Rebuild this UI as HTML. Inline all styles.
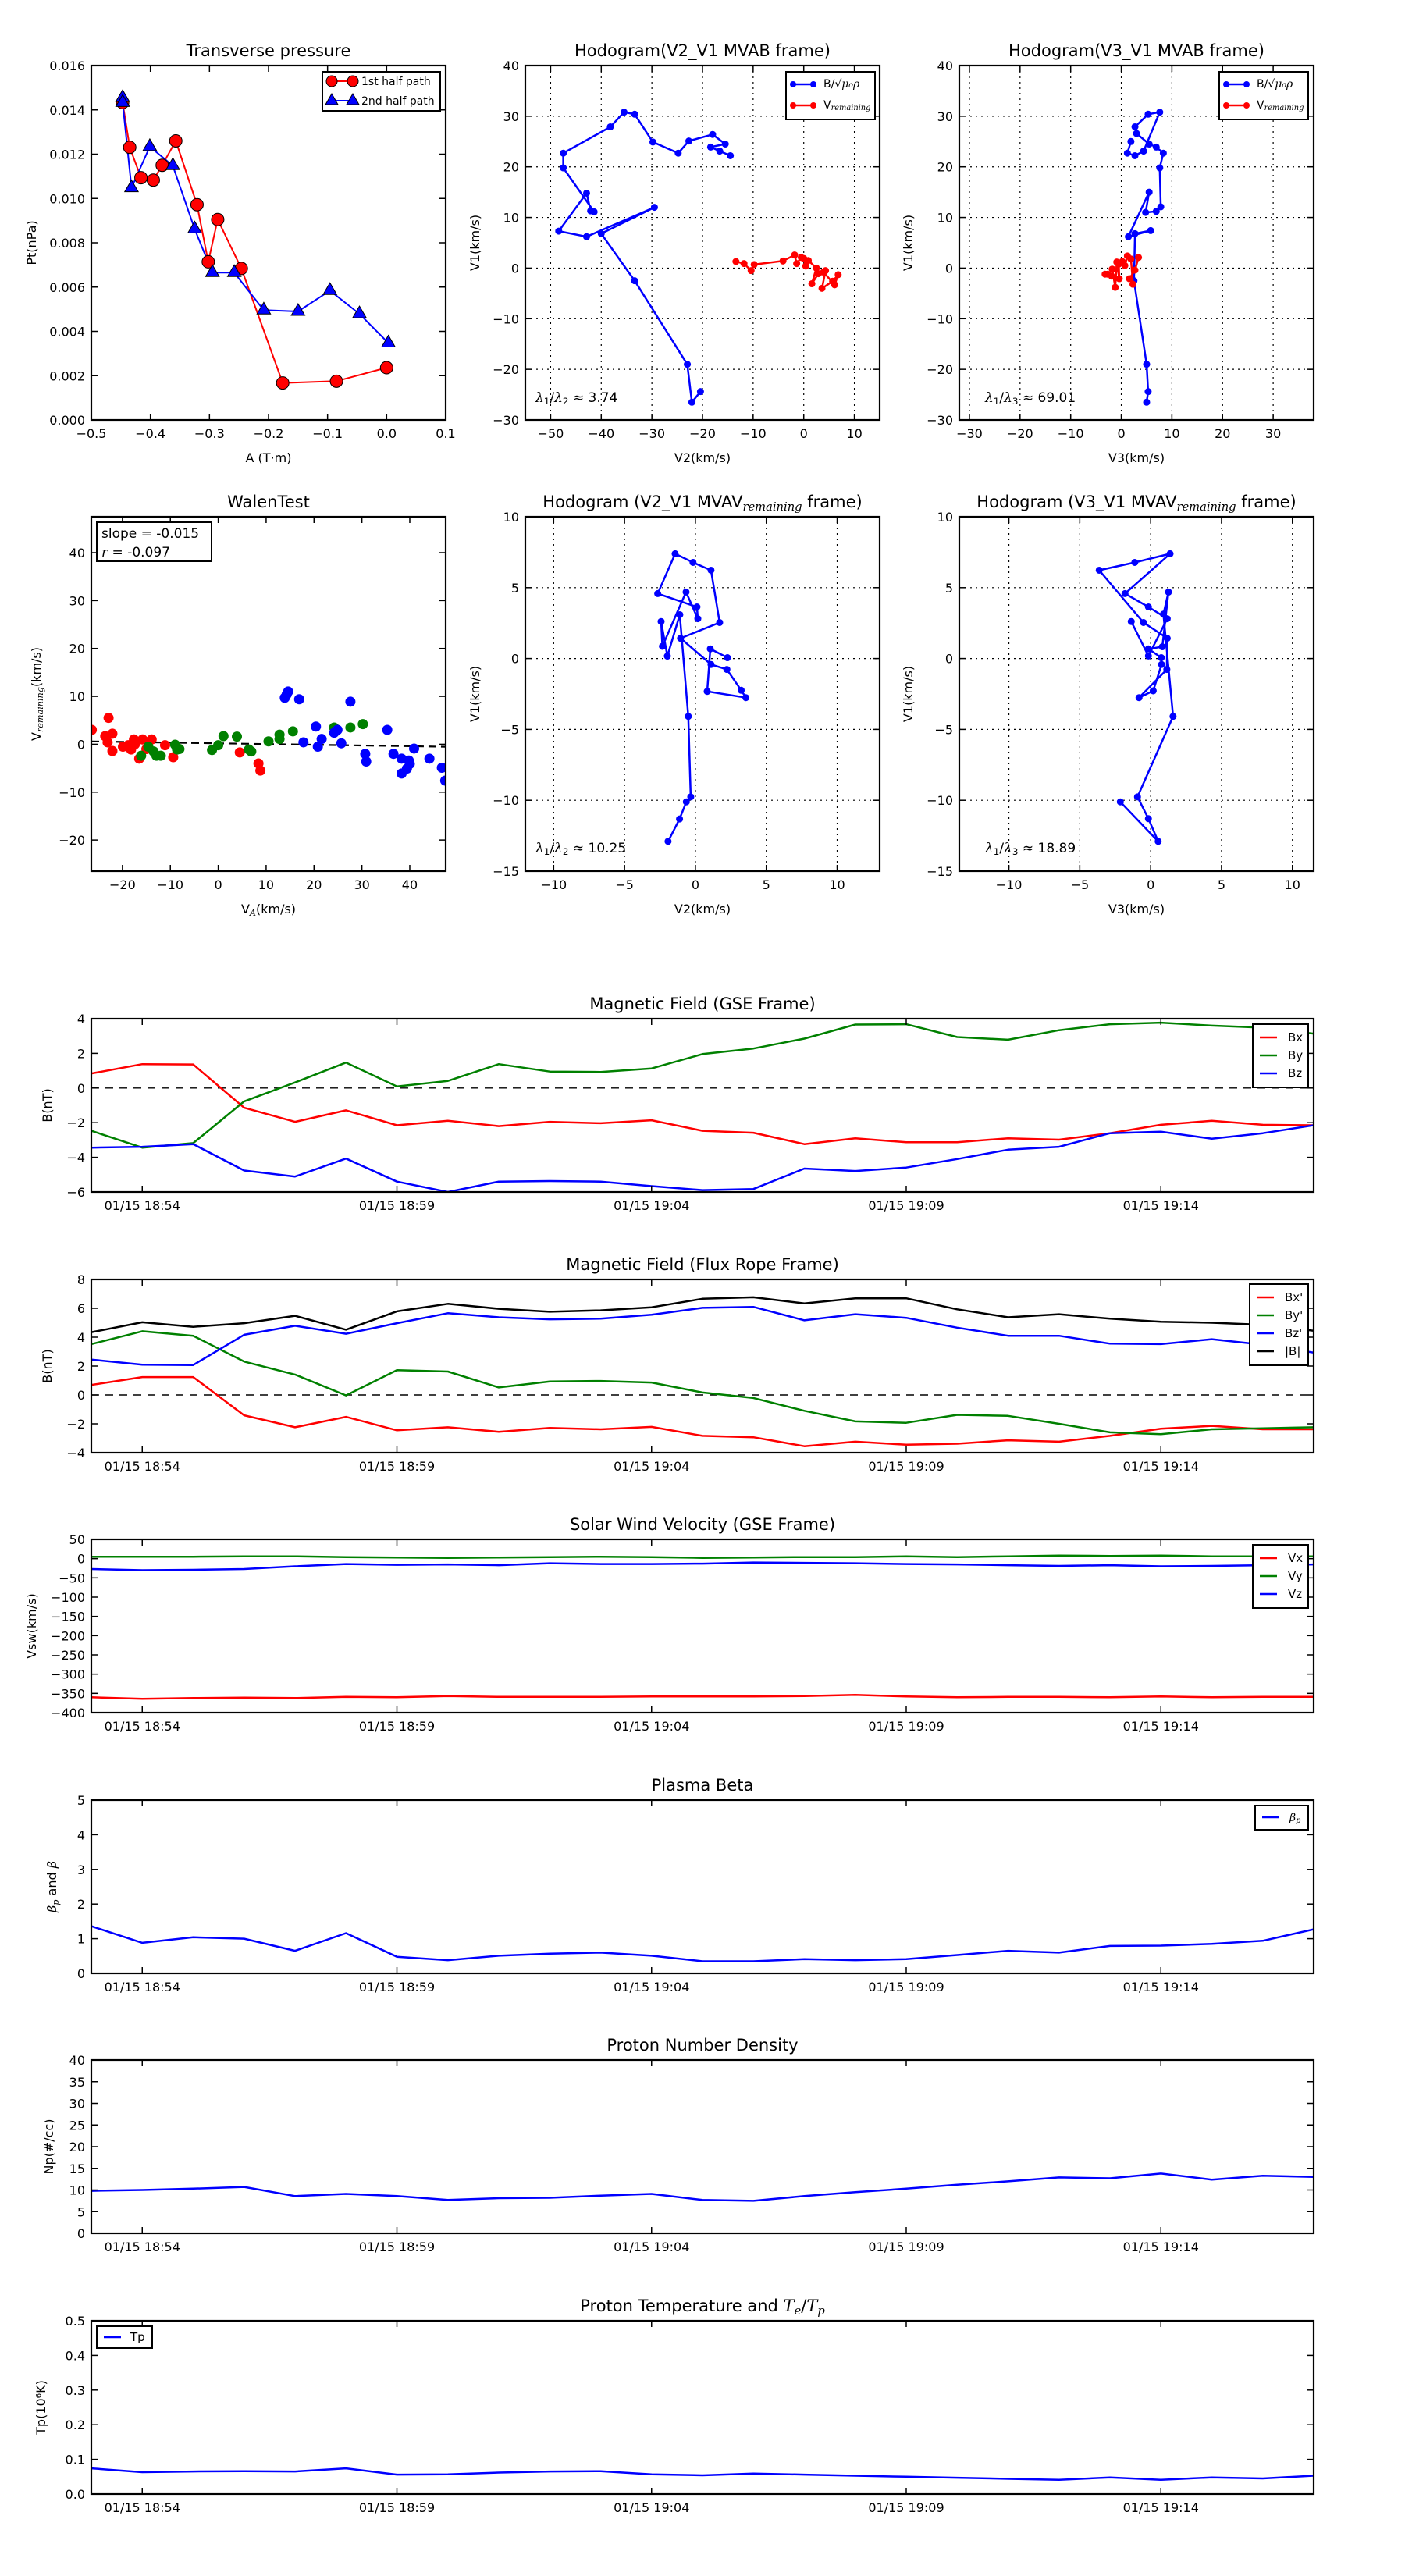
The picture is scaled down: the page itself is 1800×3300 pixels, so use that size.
<!DOCTYPE html>
<html><head><meta charset="utf-8"><title>Flux rope analysis</title>
<style>
html,body{margin:0;padding:0;background:#fff;}
svg{display:block;font-family:"DejaVu Sans","Liberation Sans",sans-serif;}
</style></head>
<body>
<svg id="fig" xmlns="http://www.w3.org/2000/svg" width="1800" height="3300" viewBox="0 0 1800 3300">
<rect x="0" y="0" width="1800" height="3300" fill="#fff"/>
</svg>
<script>
// ---------------- DATA ----------------
// Transverse pressure
const ptFirstA = [-0.447,-0.435,-0.416,-0.395,-0.380,-0.357,-0.321,-0.302,-0.286,-0.246,-0.176,-0.085,0.0];
const ptFirstP = [0.01433,0.01231,0.01094,0.01083,0.0115,0.0126,0.00972,0.00714,0.00905,0.00684,0.00167,0.00175,0.00236];
const ptSecondA = [-0.447,-0.447,-0.432,-0.401,-0.362,-0.325,-0.295,-0.258,-0.208,-0.150,-0.096,-0.046,0.003];
const ptSecondP = [0.01455,0.01433,0.01048,0.01234,0.01148,0.00862,0.00665,0.00665,0.00496,0.0049,0.00584,0.00479,0.00347];
// Hodogram V2-V1 MVAB
const mvabB_V2 = [-20.4,-22.1,-23.0,-33.4,-40.0,-29.5,-42.9,-48.4,-42.9,-42.1,-41.4,-47.5,-47.5,-38.2,-35.5,-33.4,-29.8,-24.8,-22.7,-18.0,-15.5,-18.4,-16.6,-14.5];
const mvabB_V1a = [-24.4,-26.5,-19.0,-2.5,6.8,12.0,6.2,7.3,14.8,11.3,11.1,19.8,22.7,27.9,30.8,30.4,24.9,22.7,25.1,26.4,24.5,23.9,23.1,22.2];
const mvabV_V2 = [-13.4,-11.8,-10.4,-9.8,-4.1,-1.8,-1.4,-0.5,0.0,0.4,0.9,2.5,1.6,2.9,4.3,3.6,5.7,6.8,6.1,3.9];
const mvabV_V1a = [1.3,0.9,-0.5,0.7,1.4,2.6,0.9,2.1,1.9,0.4,1.5,0.0,-3.1,-1.1,-0.5,-4.0,-2.6,-1.3,-3.3,-0.8];
// Hodogram V3-V1 MVAB
const mvabB_V3 = [5.0,5.3,5.0,2.5,2.7,5.8,1.4,5.5,4.8,6.9,7.8,7.6,8.3,6.9,5.5,3.0,2.7,5.3,7.6,4.4,2.7,1.2,1.9];
const mvabB_V1b = [-26.5,-24.4,-19.0,-2.5,6.8,7.4,6.2,15.0,11.0,11.2,12.1,19.8,22.7,23.9,24.5,26.6,27.9,30.4,30.8,23.1,22.2,22.7,25.0];
const mvabV_V3 = [-3.2,-2.7,-1.9,-1.8,-1.2,-0.9,-0.4,-0.5,0.2,0.7,1.2,1.9,2.3,1.6,2.7,3.4];
const mvabV_V1b = [-1.2,-1.2,-1.6,-0.2,-3.8,1.2,-2.1,0.8,1.3,0.5,2.4,1.8,-3.2,-2.1,-0.4,2.1];
// Walen test
const walenRedVA = [-26.4,-23.6,-22.9,-22.1,-23.1,-22.1,-19.9,-18.8,-18.2,-17.6,-17.4,-16.5,-15.8,-15.0,-13.9,-11.1,-9.4,4.5,8.4,8.8];
const walenRedVR = [3.0,1.7,5.5,2.2,0.4,-1.4,-0.5,-0.2,-1.1,1.0,0.0,-3.0,1.0,-1.0,1.0,-0.2,-2.7,-1.7,-4.0,-5.5];
const walenGreenVA = [-16.1,-14.6,-13.5,-12.9,-12.0,-9.0,-8.1,-8.6,-1.3,0.0,1.1,3.9,6.4,6.9,10.5,12.8,12.8,15.6,24.2,27.6,30.2];
const walenGreenVR = [-2.4,-0.5,-1.5,-2.4,-2.4,-0.1,-1.0,-1.1,-1.2,-0.2,1.7,1.6,-1.1,-1.5,0.6,2.0,1.1,2.7,3.5,3.5,4.2];
const walenBlueVA = [13.9,14.6,14.3,16.9,17.8,20.4,20.8,21.6,24.2,24.9,25.7,27.6,35.3,30.7,30.9,36.6,38.3,38.3,39.4,39.8,40.9,40.0,44.1,46.7,47.4];
const walenBlueVR = [9.7,11.0,10.4,9.4,0.4,3.7,-0.5,1.1,2.4,3.0,0.2,8.9,3.0,-2.0,-3.6,-2.0,-3.0,-6.1,-5.1,-3.4,-0.9,-4.1,-3.0,-4.9,-7.6];
const walenSlope = -0.015;
const walenIntercept = 0.2;
// Hodogram V2-V1 MVAV
const mvavV2 = [-1.93,-1.12,-0.64,-0.33,-0.50,-1.10,-1.98,-2.42,-2.33,-0.66,0.17,0.11,-2.66,-1.43,-0.17,1.10,1.71,-1.05,1.10,2.22,3.23,3.56,0.83,1.05,2.26];
const mvavV1a = [-12.90,-11.32,-10.11,-9.76,-4.08,3.09,0.17,2.61,0.86,4.69,2.81,3.64,4.58,7.39,6.78,6.23,2.54,1.43,-0.42,-0.77,-2.24,-2.76,-2.32,0.68,0.06];
// Hodogram V3-V1 MVAV
const mvavV3 = [-2.14,0.53,-0.16,-0.93,1.58,0.90,1.26,0.82,-0.16,0.75,0.77,0.18,-0.82,1.14,1.17,-0.51,-3.63,-1.12,1.37,-1.81,-0.16,1.17,-0.16,-1.37];
const mvavV1b = [-10.11,-12.90,-11.30,-9.76,-4.08,3.13,4.69,0.83,0.68,0.06,-0.42,-2.28,-2.76,-0.77,1.43,2.54,6.23,6.78,7.39,4.58,3.64,2.81,0.18,2.61];
// Time series (minutes after 18:53)
const minutes = [0,1,2,3,4,5,6,7,8,9,10,11,12,13,14,15,16,17,18,19,20,21,22,23,24];
const timeTicks = [1,6,11,16,21];
const timeTickLabels = ['01/15 18:54','01/15 18:59','01/15 19:04','01/15 19:09','01/15 19:14'];
const gseBx = [0.84,1.38,1.36,-1.14,-1.95,-1.29,-2.15,-1.89,-2.2,-1.95,-2.03,-1.86,-2.47,-2.58,-3.24,-2.9,-3.13,-3.13,-2.9,-2.98,-2.61,-2.12,-1.89,-2.12,-2.15];
const gseBy = [-2.47,-3.44,-3.18,-0.77,0.32,1.47,0.09,0.41,1.38,0.95,0.93,1.13,1.96,2.28,2.85,3.66,3.68,2.94,2.79,3.34,3.68,3.77,3.6,3.48,3.14];
const gseBz = [-3.44,-3.39,-3.24,-4.76,-5.11,-4.07,-5.4,-6.0,-5.4,-5.37,-5.4,-5.66,-5.89,-5.83,-4.65,-4.79,-4.59,-4.1,-3.56,-3.39,-2.61,-2.52,-2.93,-2.61,-2.15];
const frBx = [0.69,1.24,1.24,-1.41,-2.24,-1.52,-2.45,-2.24,-2.55,-2.28,-2.38,-2.21,-2.83,-2.93,-3.55,-3.24,-3.45,-3.38,-3.14,-3.24,-2.83,-2.34,-2.14,-2.38,-2.38];
const frBy = [3.52,4.41,4.1,2.31,1.41,-0.03,1.72,1.62,0.52,0.93,0.97,0.86,0.17,-0.21,-1.1,-1.83,-1.93,-1.38,-1.45,-2.0,-2.59,-2.72,-2.38,-2.31,-2.24];
const frBz = [2.45,2.1,2.07,4.17,4.79,4.24,4.97,5.66,5.38,5.24,5.28,5.55,6.03,6.1,5.17,5.59,5.34,4.66,4.1,4.1,3.55,3.52,3.86,3.48,2.93];
const frBt = [4.34,5.03,4.72,4.97,5.48,4.52,5.79,6.31,5.97,5.76,5.86,6.07,6.66,6.76,6.34,6.69,6.69,5.93,5.38,5.59,5.28,5.07,5.0,4.86,4.45];
const swVx = [-360,-364,-362,-361,-362,-359,-360,-357,-359,-359,-359,-358,-358,-358,-357,-354,-358,-360,-359,-359,-360,-358,-360,-359,-359];
const swVy = [5,5,5,6,6,4,3,2,3,4,5,4,2,3,4,4,6,4,6,8,7,8,6,6,6];
const swVz = [-27,-30,-29,-27,-20,-14,-16,-15,-17,-12,-14,-14,-13,-10,-11,-12,-14,-15,-17,-19,-17,-20,-19,-17,-15];
const betaP = [1.36,0.88,1.04,1.0,0.65,1.16,0.48,0.38,0.51,0.57,0.6,0.51,0.35,0.35,0.41,0.38,0.41,0.53,0.65,0.6,0.79,0.8,0.85,0.94,1.27];
const densNp = [9.8,10,10.3,10.7,8.6,9.1,8.6,7.7,8.1,8.2,8.7,9.1,7.7,7.5,8.6,9.5,10.3,11.2,12,12.9,12.7,13.8,12.4,13.3,13.0];
const tempTp = [0.074,0.063,0.065,0.066,0.065,0.074,0.056,0.057,0.062,0.065,0.066,0.057,0.054,0.059,0.056,0.053,0.05,0.047,0.044,0.041,0.048,0.041,0.048,0.045,0.053];

// ---------------- HELPERS ----------------
const NS = 'http://www.w3.org/2000/svg';
const svg = document.getElementById('fig');
const RED = '#ff0000', GREEN = '#008000', BLUE = '#0000ff';
let clipCount = 0;
function el(tag, attrs, name, parent) {
  const e = document.createElementNS(NS, tag);
  for (const k in attrs) e.setAttribute(k, attrs[k]);
  
  
  (parent || svg).appendChild(e);
  return e;
}
// segs: string or array of {t, sub, it}
function txt(x, y, segs, o, name, parent) {
  o = o || {};
  const a = { x: x, y: y, 'font-size': o.size || 16, fill: '#000', 'text-anchor': o.anchor || 'middle' };
  if (o.baseline) a['dominant-baseline'] = o.baseline;
  if (o.rotate) a.transform = 'rotate(' + o.rotate + ' ' + x + ' ' + y + ')';
  const t = el('text', a, name, parent);
  if (typeof segs === 'string') segs = [{ t: segs }];
  segs.forEach(s => {
    const sp = document.createElementNS(NS, 'tspan');
    if (s.it) sp.setAttribute('font-style', 'italic');
    if (s.it) sp.setAttribute('font-family', '"DejaVu Serif","Liberation Serif",serif');
    if (s.sub) { sp.setAttribute('baseline-shift', '-0.25em'); sp.setAttribute('font-size', '70%'); }
    sp.textContent = s.t;
    t.appendChild(sp);
  });
  return t;
}
function fmt(v, d) { const s = Math.abs(v).toFixed(d); return (v < -1e-12 ? '\u2212' : '') + s; }

function makeAxes(o) {
  const g = el('g', {}, o.name);
  const sx = v => o.x0 + (v - o.xmin) / (o.xmax - o.xmin) * (o.x1 - o.x0);
  const sy = v => o.y1 - (v - o.ymin) / (o.ymax - o.ymin) * (o.y1 - o.y0);
  const cid = 'clip' + (clipCount++);
  const cp = el('clipPath', { id: cid }, o.name + '-clip', g);
  el('rect', { x: o.x0, y: o.y0, width: o.x1 - o.x0, height: o.y1 - o.y0 }, o.name + '-clip-rect', cp);
  if (o.grid) {
    const gg = el('g', { stroke: '#000', 'stroke-width': 1.2, 'stroke-dasharray': '2,5' }, o.name + '-grid', g);
    o.xticks.forEach(v => { if (v > o.xmin && v < o.xmax) el('line', { x1: sx(v), x2: sx(v), y1: o.y0, y2: o.y1 }, 'grid-x', gg); });
    o.yticks.forEach(v => { if (v > o.ymin && v < o.ymax) el('line', { x1: o.x0, x2: o.x1, y1: sy(v), y2: sy(v) }, 'grid-y', gg); });
  }
  const data = el('g', { 'clip-path': 'url(#' + cid + ')' }, o.name + '-data', g);
  const tg = el('g', { stroke: '#000', 'stroke-width': 1.5 }, o.name + '-ticks', g);
  o.xticks.forEach((v, i) => {
    const x = sx(v);
    el('line', { x1: x, x2: x, y1: o.y1, y2: o.y1 - 8 }, 'x-tick', tg);
    el('line', { x1: x, x2: x, y1: o.y0, y2: o.y0 + 8 }, 'x-tick-top', tg);
    txt(x, o.y1 + 23, o.xlabels[i], { size: 16 }, 'x-tick-label', g);
  });
  o.yticks.forEach((v, i) => {
    const y = sy(v);
    el('line', { x1: o.x0, x2: o.x0 + 8, y1: y, y2: y }, 'y-tick', tg);
    el('line', { x1: o.x1, x2: o.x1 - 8, y1: y, y2: y }, 'y-tick-right', tg);
    txt(o.x0 - 8, y + 6, o.ylabels[i], { size: 16, anchor: 'end' }, 'y-tick-label', g);
  });
  el('rect', { x: o.x0, y: o.y0, width: o.x1 - o.x0, height: o.y1 - o.y0, fill: 'none', stroke: '#000', 'stroke-width': 2.2 }, o.name + '-frame', g);
  if (o.title) txt((o.x0 + o.x1) / 2, o.y0 - 12, o.title, { size: 21 }, o.name + '-title', g);
  if (o.xlabel) txt((o.x0 + o.x1) / 2, o.y1 + 54, o.xlabel, { size: 16 }, o.name + '-x-axis-title', g);
  if (o.ylabel) txt(o.ylabelX, (o.y0 + o.y1) / 2, o.ylabel, { size: 16, rotate: -90 }, o.name + '-y-axis-title', g);
  return { g: g, data: data, sx: sx, sy: sy, o: o };
}
function poly(ax, xs, ys, color, name, w) {
  const pts = xs.map((v, i) => ax.sx(v).toFixed(1) + ',' + ax.sy(ys[i]).toFixed(1)).join(' ');
  return el('polyline', { points: pts, fill: 'none', stroke: color, 'stroke-width': w || 2.5, 'stroke-linejoin': 'round' }, name, ax.data);
}
function dots(ax, xs, ys, color, r, name, stroke) {
  xs.forEach((v, i) => {
    const a = { cx: ax.sx(v), cy: ax.sy(ys[i]), r: r, fill: color };
    if (stroke) { a.stroke = '#000'; a['stroke-width'] = 1; }
    el('circle', a, name, ax.data);
  });
}
function tris(ax, xs, ys, color, s, name) {
  xs.forEach((v, i) => {
    const x = ax.sx(v), y = ax.sy(ys[i]);
    el('polygon', { points: x + ',' + (y - s) + ' ' + (x - s * 0.87) + ',' + (y + s * 0.5) + ' ' + (x + s * 0.87) + ',' + (y + s * 0.5), fill: color, stroke: '#000', 'stroke-width': 1 }, name, ax.data);
  });
}
function range(a, b, s) { const r = []; for (let v = a; v <= b + 1e-9; v += s) r.push(Math.round(v * 1e6) / 1e6); return r; }
function legendBox(x, y, w, h, name) {
  const g = el('g', {}, name);
  el('rect', { x: x, y: y, width: w, height: h, fill: '#fff', stroke: '#000', 'stroke-width': 2 }, name + '-box', g);
  return g;
}

// ---------------- ROW 1 ----------------
const ax1 = makeAxes({ name: 'transverse-pressure-plot', x0: 117, x1: 571, y0: 84, y1: 538, xmin: -0.5, xmax: 0.1, ymin: 0, ymax: 0.016,
  xticks: range(-0.5, 0.1, 0.1), xlabels: range(-0.5, 0.1, 0.1).map(v => fmt(v, 1)),
  yticks: range(0, 0.016, 0.002), ylabels: range(0, 0.016, 0.002).map(v => fmt(v, 3)),
  title: 'Transverse pressure', xlabel: 'A (T\u00b7m)', ylabel: 'Pt(nPa)', ylabelX: 46 });
poly(ax1, ptFirstA, ptFirstP, RED, 'first-half-path-line', 2);
poly(ax1, ptSecondA, ptSecondP, BLUE, 'second-half-path-line', 2);
dots(ax1, ptFirstA, ptFirstP, RED, 8, 'first-half-marker', true);
tris(ax1, ptSecondA, ptSecondP, BLUE, 10, 'second-half-marker');
{
  const lg = legendBox(413, 92, 151, 50, 'pressure-legend');
  el('line', { x1: 425, x2: 452, y1: 104, y2: 104, stroke: RED, 'stroke-width': 2 }, 'legend-line-first', lg);
  el('circle', { cx: 425, cy: 104, r: 7, fill: RED, stroke: '#000' }, 'legend-marker-first', lg);
  el('circle', { cx: 452, cy: 104, r: 7, fill: RED, stroke: '#000' }, 'legend-marker-first', lg);
  txt(463, 109, '1st half path', { size: 14, anchor: 'start' }, 'legend-entry-first', lg);
  el('line', { x1: 425, x2: 452, y1: 129, y2: 129, stroke: BLUE, 'stroke-width': 2 }, 'legend-line-second', lg);
  el('polygon', { points: '425,120 417,134 433,134', fill: BLUE, stroke: '#000' }, 'legend-marker-second', lg);
  el('polygon', { points: '452,120 444,134 460,134', fill: BLUE, stroke: '#000' }, 'legend-marker-second', lg);
  txt(463, 134, '2nd half path', { size: 14, anchor: 'start' }, 'legend-entry-second', lg);
}

function hodoLegend(x, name) {
  const lg = legendBox(x, 92, 114, 61, name);
  el('line', { x1: x + 9, x2: x + 35, y1: 108, y2: 108, stroke: BLUE, 'stroke-width': 2.5 }, 'legend-line-b', lg);
  el('circle', { cx: x + 9, cy: 108, r: 4, fill: BLUE }, 'legend-marker-b', lg);
  el('circle', { cx: x + 35, cy: 108, r: 4, fill: BLUE }, 'legend-marker-b', lg);
  txt(x + 48, 112, [{ t: 'B/\u221a' }, { t: '\u03bc\u2080\u03c1', it: true }], { size: 14, anchor: 'start' }, 'legend-entry-b', lg);
  el('line', { x1: x + 9, x2: x + 35, y1: 135, y2: 135, stroke: RED, 'stroke-width': 2.5 }, 'legend-line-v', lg);
  el('circle', { cx: x + 9, cy: 135, r: 4, fill: RED }, 'legend-marker-v', lg);
  el('circle', { cx: x + 35, cy: 135, r: 4, fill: RED }, 'legend-marker-v', lg);
  txt(x + 48, 139, [{ t: 'V' }, { t: 'remaining', it: true, sub: true }], { size: 14, anchor: 'start' }, 'legend-entry-v', lg);
}

const ax2 = makeAxes({ name: 'hodogram-v2-v1-mvab', x0: 673, x1: 1127, y0: 84, y1: 538, xmin: -55, xmax: 15, ymin: -30, ymax: 40, grid: true,
  xticks: range(-50, 10, 10), xlabels: range(-50, 10, 10).map(v => fmt(v, 0)),
  yticks: range(-30, 40, 10), ylabels: range(-30, 40, 10).map(v => fmt(v, 0)),
  title: 'Hodogram(V2_V1 MVAB frame)', xlabel: 'V2(km/s)', ylabel: 'V1(km/s)', ylabelX: 614 });
poly(ax2, mvabB_V2, mvabB_V1a, BLUE, 'b-hodogram-line');
dots(ax2, mvabB_V2, mvabB_V1a, BLUE, 4.5, 'b-hodogram-point');
poly(ax2, mvabV_V2, mvabV_V1a, RED, 'v-hodogram-line');
dots(ax2, mvabV_V2, mvabV_V1a, RED, 4.5, 'v-hodogram-point');
hodoLegend(1007, 'hodogram-v2-mvab-legend');
txt(686, 515, [{ t: '\u03bb', it: true }, { t: '1', sub: true }, { t: '/' }, { t: '\u03bb', it: true }, { t: '2', sub: true }, { t: ' \u2248 3.74' }], { size: 17, anchor: 'start' }, 'eigenvalue-ratio-annotation');

const ax3 = makeAxes({ name: 'hodogram-v3-v1-mvab', x0: 1229, x1: 1683, y0: 84, y1: 538, xmin: -32, xmax: 38, ymin: -30, ymax: 40, grid: true,
  xticks: range(-30, 30, 10), xlabels: range(-30, 30, 10).map(v => fmt(v, 0)),
  yticks: range(-30, 40, 10), ylabels: range(-30, 40, 10).map(v => fmt(v, 0)),
  title: 'Hodogram(V3_V1 MVAB frame)', xlabel: 'V3(km/s)', ylabel: 'V1(km/s)', ylabelX: 1169 });
poly(ax3, mvabB_V3, mvabB_V1b, BLUE, 'b-hodogram-line');
dots(ax3, mvabB_V3, mvabB_V1b, BLUE, 4.5, 'b-hodogram-point');
poly(ax3, mvabV_V3, mvabV_V1b, RED, 'v-hodogram-line');
dots(ax3, mvabV_V3, mvabV_V1b, RED, 4.5, 'v-hodogram-point');
hodoLegend(1562, 'hodogram-v3-mvab-legend');
txt(1262, 515, [{ t: '\u03bb', it: true }, { t: '1', sub: true }, { t: '/' }, { t: '\u03bb', it: true }, { t: '3', sub: true }, { t: ' \u2248 69.01' }], { size: 17, anchor: 'start' }, 'eigenvalue-ratio-annotation');

// ---------------- ROW 2 ----------------
const ax4 = makeAxes({ name: 'walen-test-plot', x0: 117, x1: 571, y0: 662, y1: 1116, xmin: -26.5, xmax: 47.5, ymin: -26.5, ymax: 47.5,
  xticks: range(-20, 40, 10), xlabels: range(-20, 40, 10).map(v => fmt(v, 0)),
  yticks: range(-20, 40, 10), ylabels: range(-20, 40, 10).map(v => fmt(v, 0)),
  title: 'WalenTest', xlabel: [{ t: 'V' }, { t: 'A', it: true, sub: true }, { t: '(km/s)' }],
  ylabel: [{ t: 'V' }, { t: 'remaining', it: true, sub: true }, { t: '(km/s)' }], ylabelX: 52 });
{
  const fx = [ax4.o.xmin, ax4.o.xmax];
  const fy = fx.map(v => walenSlope * v + walenIntercept);
  const l = poly(ax4, fx, fy, '#000', 'walen-fit-line', 2.2);
  l.setAttribute('stroke-dasharray', '10,6');
}
dots(ax4, walenRedVA, walenRedVR, RED, 6.5, 'walen-point-red');
dots(ax4, walenGreenVA, walenGreenVR, GREEN, 6.5, 'walen-point-green');
dots(ax4, walenBlueVA, walenBlueVR, BLUE, 6.5, 'walen-point-blue');
{
  const lg = legendBox(124, 669, 147, 50, 'walen-stats-box');
  txt(130, 689, 'slope = -0.015', { size: 17, anchor: 'start' }, 'walen-slope-text', lg);
  txt(130, 713, [{ t: 'r', it: true }, { t: ' = -0.097' }], { size: 17, anchor: 'start' }, 'walen-r-text', lg);
}

const ax5 = makeAxes({ name: 'hodogram-v2-v1-mvav', x0: 673, x1: 1127, y0: 662, y1: 1116, xmin: -12, xmax: 13, ymin: -15, ymax: 10, grid: true,
  xticks: range(-10, 10, 5), xlabels: range(-10, 10, 5).map(v => fmt(v, 0)),
  yticks: range(-15, 10, 5), ylabels: range(-15, 10, 5).map(v => fmt(v, 0)),
  title: [{ t: 'Hodogram (V2_V1 MVAV' }, { t: 'remaining', it: true, sub: true }, { t: ' frame)' }],
  xlabel: 'V2(km/s)', ylabel: 'V1(km/s)', ylabelX: 614 });
poly(ax5, mvavV2, mvavV1a, BLUE, 'mvav-hodogram-line');
dots(ax5, mvavV2, mvavV1a, BLUE, 4.5, 'mvav-hodogram-point');
txt(686, 1092, [{ t: '\u03bb', it: true }, { t: '1', sub: true }, { t: '/' }, { t: '\u03bb', it: true }, { t: '2', sub: true }, { t: ' \u2248 10.25' }], { size: 17, anchor: 'start' }, 'eigenvalue-ratio-annotation');

const ax6 = makeAxes({ name: 'hodogram-v3-v1-mvav', x0: 1229, x1: 1683, y0: 662, y1: 1116, xmin: -13.5, xmax: 11.5, ymin: -15, ymax: 10, grid: true,
  xticks: range(-10, 10, 5), xlabels: range(-10, 10, 5).map(v => fmt(v, 0)),
  yticks: range(-15, 10, 5), ylabels: range(-15, 10, 5).map(v => fmt(v, 0)),
  title: [{ t: 'Hodogram (V3_V1 MVAV' }, { t: 'remaining', it: true, sub: true }, { t: ' frame)' }],
  xlabel: 'V3(km/s)', ylabel: 'V1(km/s)', ylabelX: 1169 });
poly(ax6, mvavV3, mvavV1b, BLUE, 'mvav-hodogram-line');
dots(ax6, mvavV3, mvavV1b, BLUE, 4.5, 'mvav-hodogram-point');
txt(1262, 1092, [{ t: '\u03bb', it: true }, { t: '1', sub: true }, { t: '/' }, { t: '\u03bb', it: true }, { t: '3', sub: true }, { t: ' \u2248 18.89' }], { size: 17, anchor: 'start' }, 'eigenvalue-ratio-annotation');

// ---------------- TIME SERIES ----------------
function tsAxes(name, y0, ymin, ymax, ystep, dec, title, ylabel, ylabelX) {
  return makeAxes({ name: name, x0: 117, x1: 1683, y0: y0, y1: y0 + 222, xmin: 0, xmax: 24, ymin: ymin, ymax: ymax,
    xticks: timeTicks, xlabels: timeTickLabels,
    yticks: range(ymin, ymax, ystep), ylabels: range(ymin, ymax, ystep).map(v => fmt(v, dec)),
    title: title, ylabel: ylabel, ylabelX: ylabelX });
}
function tsLegend(x, y, w, items, name) {
  const lg = legendBox(x, y, w, items.length * 23 + 12, name);
  items.forEach((it, i) => {
    const yy = y + 17 + i * 23;
    el('line', { x1: x + 9, x2: x + 31, y1: yy, y2: yy, stroke: it.c, 'stroke-width': 2.5 }, 'legend-line-' + i, lg);
    txt(x + 45, yy + 5, it.label, { size: 15, anchor: 'start' }, 'legend-entry', lg);
  });
}
function zeroLine(ax, name) {
  el('line', { x1: ax.o.x0, x2: ax.o.x1, y1: ax.sy(0), y2: ax.sy(0), stroke: '#000', 'stroke-width': 1.4, 'stroke-dasharray': '10,8' }, name, ax.data);
}

const ax7 = tsAxes('magnetic-field-gse-plot', 1305, -6, 4, 2, 0, 'Magnetic Field (GSE Frame)', 'B(nT)', 66);
zeroLine(ax7, 'zero-line');
poly(ax7, minutes, gseBx, RED, 'bx-line');
poly(ax7, minutes, gseBy, GREEN, 'by-line');
poly(ax7, minutes, gseBz, BLUE, 'bz-line');
tsLegend(1605, 1312, 71, [{ c: RED, label: 'Bx' }, { c: GREEN, label: 'By' }, { c: BLUE, label: 'Bz' }], 'gse-legend');

const ax8 = tsAxes('magnetic-field-flux-rope-plot', 1639, -4, 8, 2, 0, 'Magnetic Field (Flux Rope Frame)', 'B(nT)', 66);
zeroLine(ax8, 'zero-line');
poly(ax8, minutes, frBx, RED, 'bx-prime-line');
poly(ax8, minutes, frBy, GREEN, 'by-prime-line');
poly(ax8, minutes, frBz, BLUE, 'bz-prime-line');
poly(ax8, minutes, frBt, '#000', 'b-magnitude-line');
tsLegend(1601, 1645, 75, [{ c: RED, label: "Bx'" }, { c: GREEN, label: "By'" }, { c: BLUE, label: "Bz'" }, { c: '#000', label: '|B|' }], 'flux-rope-legend');

const ax9 = tsAxes('solar-wind-velocity-plot', 1972, -400, 50, 50, 0, 'Solar Wind Velocity (GSE Frame)', 'Vsw(km/s)', 46);
poly(ax9, minutes, swVx, RED, 'vx-line');
poly(ax9, minutes, swVy, GREEN, 'vy-line');
poly(ax9, minutes, swVz, BLUE, 'vz-line');
tsLegend(1605, 1979, 71, [{ c: RED, label: 'Vx' }, { c: GREEN, label: 'Vy' }, { c: BLUE, label: 'Vz' }], 'velocity-legend');

const ax10 = tsAxes('plasma-beta-plot', 2306, 0, 5, 1, 0, 'Plasma Beta',
  [{ t: '\u03b2', it: true }, { t: 'p', it: true, sub: true }, { t: ' and ' }, { t: '\u03b2', it: true }], 72);
poly(ax10, minutes, betaP, BLUE, 'beta-p-line');
{
  const lg = legendBox(1608, 2313, 68, 31, 'beta-legend');
  el('line', { x1: 1617, x2: 1639, y1: 2328, y2: 2328, stroke: BLUE, 'stroke-width': 2.5 }, 'legend-line-beta', lg);
  txt(1652, 2333, [{ t: '\u03b2', it: true }, { t: 'p', it: true, sub: true }], { size: 14, anchor: 'start' }, 'legend-entry', lg);
}

const ax11 = tsAxes('proton-density-plot', 2639, 0, 40, 5, 0, 'Proton Number Density', 'Np(#/cc)', 68);
poly(ax11, minutes, densNp, BLUE, 'density-line');

const ax12 = tsAxes('proton-temperature-plot', 2973, 0, 0.5, 0.1, 1, [{ t: 'Proton Temperature and ' }, { t: 'T', it: true }, { t: 'e', it: true, sub: true }, { t: '/' }, { t: 'T', it: true }, { t: 'p', it: true, sub: true }], 'Tp(10\u2076K)', 58);
poly(ax12, minutes, tempTp, BLUE, 'temperature-line');
{
  const lg = legendBox(124, 2980, 71, 28, 'temperature-legend');
  el('line', { x1: 133, x2: 155, y1: 2994, y2: 2994, stroke: BLUE, 'stroke-width': 2.5 }, 'legend-line-tp', lg);
  txt(167, 2999, 'Tp', { size: 15, anchor: 'start' }, 'legend-entry', lg);
}
</script>
</body></html>
